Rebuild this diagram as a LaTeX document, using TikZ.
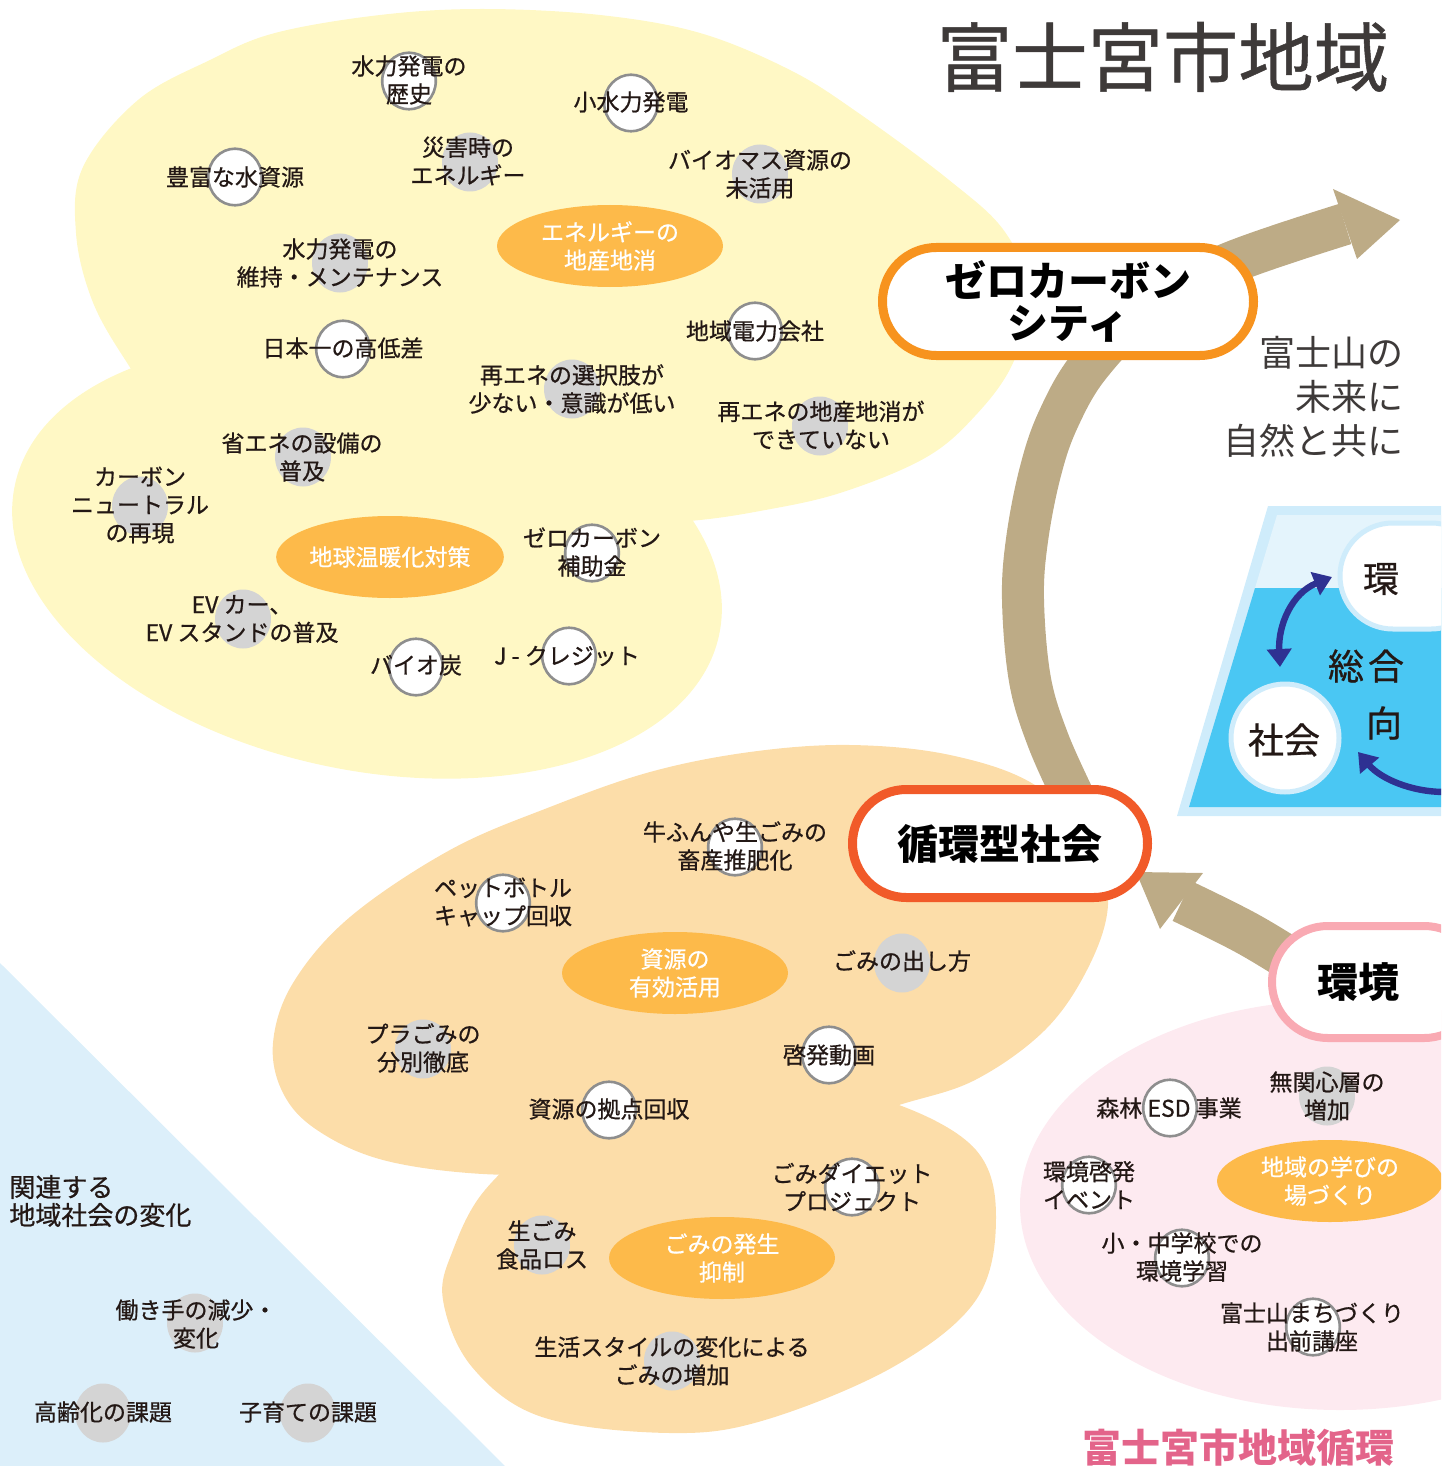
\documentclass[tikz,border=0pt]{standalone}
\usepackage{fontspec}
\setmainfont{Noto Sans CJK JP}
\newfontfamily\jp{Noto Sans CJK JP}
\newfontfamily\jpm{Noto Sans CJK JP}[FakeBold=0.7]
\usetikzlibrary{arrows.meta,shapes.geometric}
\definecolor{yel}{HTML}{FFF8C5}
\definecolor{peach}{HTML}{FCDDA9}
\definecolor{pinkbg}{HTML}{FDEAF0}
\definecolor{lblue}{HTML}{DCEFFA}
\definecolor{orn}{HTML}{FDBA4A}
\definecolor{gcirc}{HTML}{D4D4D4}
\definecolor{cbord}{HTML}{8E8E8E}
\definecolor{brownc}{HTML}{BDAB86}
\definecolor{zcor}{HTML}{F7931E}
\definecolor{jcor}{HTML}{F15A29}
\definecolor{kcor}{HTML}{F9AAB3}
\definecolor{navy}{HTML}{2E3192}
\definecolor{cyanc}{HTML}{4AC7F3}
\definecolor{pale}{HTML}{E4F4FC}
\definecolor{tborder}{HTML}{CFECFB}
\definecolor{txt}{HTML}{231815}
\definecolor{ttl}{HTML}{3E3A39}
\definecolor{pinktxt}{HTML}{E3648A}
\newcommand\mylab[7]{\node[#4] (c#1) at (#2,#3) {}; \node[lbl] (t#1) at (#5,#6) {#7};}
\begin{document}
\begin{tikzpicture}[x=0.5pt,y=-0.5pt,
  lbl/.style={font=\jpm\fontsize{11.5}{14}\selectfont, text=txt, align=center, inner sep=0pt},
  wc/.style={ellipse, draw=cbord, line width=1.3pt, fill=white, minimum width=26.8pt, minimum height=28.3pt, inner sep=0pt},
  gc/.style={ellipse, fill=gcirc, minimum width=28pt, minimum height=29.5pt, inner sep=0pt},
  oe/.style={ellipse, fill=orn, minimum width=113pt, minimum height=41pt, inner sep=0pt, text=white, align=center, font=\jpm\fontsize{11.5}{14}\selectfont},
  band/.style={brownc, line width=21pt},
  hd/.style={font=\jp\bfseries\fontsize{20.5}{21}\selectfont, text=black, align=center, inner sep=0pt},
  stad/.style={fill=white, inner sep=0pt},
  narr/.style={draw=navy, line width=3.2pt},
  mid/.style={font=\jpm\fontsize{18}{18}\selectfont, text=txt, inner sep=0pt},
]
\useasboundingbox (0,0) rectangle (1441,1466);
\clip (0,0) rectangle (1441,1466);

% background regions
\fill[lblue] (0,963) -- (505,1466) -- (0,1466) -- cycle;
\fill[yel] plot[smooth cycle, tension=0.6] coordinates {(482,9) (600,15) (700,33) (790,70) (857,112) (949,180) (1005,232) (1030,295) (1013,363) (975,416) (925,458) (840,493) (760,511) (690,521) (600,526) (480,522) (350,502) (230,458) (160,405) (124,358) (92,300) (76,233) (83,167) (138,100) (210,60) (275,33) (380,15)};
\fill[yel, rotate around={-12:(367,560)}] (367,560) ellipse [x radius=360, y radius=210];
\fill[peach] plot[smooth cycle, tension=0.6] coordinates {(273,1043) (293,983) (350,917) (450,850) (550,807) (650,772) (750,752) (850,745) (950,755) (1035,785) (1095,845) (1108,905) (1088,968) (1045,1030) (975,1080) (899,1105) (800,1135) (700,1160) (590,1172) (483,1174) (383,1160) (317,1130) (283,1093)};
\fill[peach] plot[smooth cycle, tension=0.6] coordinates {(485,1190) (453,1250) (443,1300) (472,1367) (542,1417) (670,1433) (765,1420) (893,1367) (976,1300) (996,1217) (976,1150) (899,1105) (800,1085) (650,1095) (550,1135)};
\fill[pinkbg] (1340,1205) ellipse [x radius=320, y radius=205];

% brown bands
\draw[band] plot[smooth, tension=0.6] coordinates {(1075,800) (1048,740) (1030,680) (1023,600) (1027,540) (1040,473) (1058,420) (1090,365) (1150,305) (1230,263) (1345,224)};
\fill[brownc] (1333,189) -- (1400,220) -- (1357,259) -- cycle;
\draw[band, line width=22pt] plot[smooth, tension=0.6] coordinates {(1320,978) (1250,935) (1182,901)};
\fill[brownc] (1203,873) -- (1136,872) -- (1160,929) -- cycle;

% central orange ellipses
\node[oe] (o1) at (610,246) {エネルギーの\\地産地消};
\node[oe] (o2) at (390,557) {地球温暖化対策};
\node[oe] (o3) at (675,973) {資源の\\有効活用};
\node[oe] (o4) at (722,1258) {ごみの発生\\抑制};
\node[oe] (o5) at (1330,1181) {地域の学びの\\場づくり};

% labels (yellow)
\mylab{a1}{409}{81}{wc}{409}{80}{水力発電の\\歴史}
\mylab{a2}{631}{103}{wc}{631}{102}{小水力発電}
\mylab{a3}{235}{177}{wc}{235}{177}{豊富な水資源}
\mylab{a4}{470}{162}{gc}{468}{161}{災害時の\\エネルギー}
\mylab{a5}{760}{174}{gc}{760}{174}{バイオマス資源の\\未活用}
\mylab{a6}{340}{263}{gc}{340}{263}{水力発電の\\維持・メンテナンス}
\mylab{a7}{343}{349}{wc}{343}{348}{日本一の高低差}
\mylab{a8}{755}{331}{wc}{755}{331}{地域電力会社}
\mylab{a9}{572}{389}{gc}{572}{389}{再エネの選択肢が\\少ない・意識が低い}
\mylab{a10}{820}{426}{gc}{821}{425}{再エネの地産地消が\\できていない}
\mylab{a11}{303}{457}{gc}{302}{457}{省エネの設備の\\普及}
\mylab{a12}{140}{506}{gc}{140}{505}{カーボン\\ニュートラル\\の再現}
\mylab{a13}{592}{553}{wc}{592}{552}{ゼロカーボン\\補助金}
\mylab{a14}{243}{619}{gc}{242}{619}{EV カー、\\EV スタンドの普及}
\mylab{a15}{416}{667}{wc}{416}{665}{バイオ炭}
\mylab{a16}{569}{656}{wc}{567}{656}{J - クレジット}
% labels (peach)
\mylab{b1}{735}{847}{wc}{735}{846}{牛ふんや生ごみの\\畜産推肥化}
\mylab{b2}{503}{903}{wc}{503}{902}{ペットボトル\\キャップ回収}
\mylab{b3}{902}{963}{gc}{902}{961}{ごみの出し方}
\mylab{b4}{423}{1049}{gc}{423}{1048}{プラごみの\\分別徹底}
\mylab{b5}{829}{1055}{wc}{829}{1055}{啓発動画}
\mylab{b6}{609}{1110}{wc}{609}{1109}{資源の拠点回収}
\mylab{b7}{852}{1187}{wc}{852}{1187}{ごみダイエット\\プロジェクト}
\mylab{b8}{542}{1245}{gc}{542}{1245}{生ごみ\\食品ロス}
\mylab{b9}{672}{1361}{gc}{672}{1361}{生活スタイルの変化による\\ごみの増加}
% labels (pink)
\mylab{p1}{1170}{1108}{wc}{1169}{1108}{森林 ESD 事業}
\mylab{p2}{1327}{1096}{gc}{1327}{1096}{無関心層の\\増加}
\mylab{p3}{1089}{1185}{wc}{1089}{1185}{環境啓発\\イベント}
\mylab{p4}{1182}{1258}{wc}{1182}{1257}{小・中学校での\\環境学習}
\mylab{p5}{1313}{1327}{wc}{1312}{1327}{富士山まちづくり\\出前講座}
% labels (blue)
\mylab{q1}{195}{1323}{gc}{196}{1324}{働き手の減少・\\変化}
\mylab{q2}{103}{1413}{gc}{103}{1412}{高齢化の課題}
\mylab{q3}{308}{1413}{gc}{308}{1412}{子育ての課題}

% boxes
\node[stad, draw=zcor, line width=4.5pt, minimum width=185.5pt, minimum height=54pt, rounded corners=26.9pt, hd] (zc) at (1068,301.5) {ゼロカーボン\\シティ};
\node[stad, draw=jcor, line width=4.5pt, minimum width=147.5pt, minimum height=54pt, rounded corners=26.9pt, hd] (jk) at (1000,843.5) {循環型社会};
\node[stad, draw=kcor, line width=4pt, minimum width=104pt, minimum height=56pt, rounded corners=27.9pt] (kb) at (1376,982) {};
\node[hd] (kbt) at (1358,982) {環境};

% right trapezoid panel
\fill[tborder] (1268,506) -- (1450,506) -- (1450,816) -- (1177,816) -- cycle;
\fill[pale] (1277,515) -- (1450,515) -- (1450,588) -- (1255,588) -- cycle;
\fill[cyanc] (1255,588) -- (1450,588) -- (1450,807) -- (1189,807) -- cycle;
\node[stad, draw=tborder, line width=2.5pt, minimum width=72pt, minimum height=53pt, rounded corners=26.4pt] (kan) at (1412,576) {};
\node[mid] (kant) at (1381,579) {環};
\node[circle, draw=tborder, line width=2.5pt, fill=white, minimum size=54pt, inner sep=0pt] (sk) at (1285,738) {};
\node[mid] (skt) at (1284,740) {社会};
\node[mid] (sg) at (1366,666) {総\hspace{2pt}合};
\node[mid] (mk) at (1384,723) {向};
\coordinate (n1) at (1280,667);
\coordinate (n2) at (1332,577);
\coordinate (n3) at (1445,792);
\coordinate (n4) at (1358,752);
\draw[narr, {Triangle[length=9pt,width=12pt]}-{Triangle[length=9pt,width=12pt]}] (n1) .. controls (1278,625) and (1292,593) .. (n2);
\draw[narr, -{Triangle[length=9pt,width=12pt]}] (n3) .. controls (1410,792) and (1380,778) .. (n4);

% texts
\node[font=\jpm\fontsize{37.7}{40}\selectfont, text=ttl, inner sep=0pt] (title) at (1163,57) {富士宮市地域};
\node[anchor=east, align=right, font=\jp\fontsize{18}{22}\selectfont, text=ttl, inner sep=0pt] (mt) at (1404,397) {富士山の\\未来に\\自然と共に};
\node[anchor=west, align=left, font=\jpm\fontsize{13}{14}\selectfont, text=txt, inner sep=0pt] (lt) at (9,1201) {関連する\\地域社会の変化};
\node[anchor=west, font=\jp\bfseries\fontsize{19.5}{20}\selectfont, text=pinktxt, inner sep=0pt] (bt) at (1082,1448) {富士宮市地域循環};
\end{tikzpicture}
\end{document}
